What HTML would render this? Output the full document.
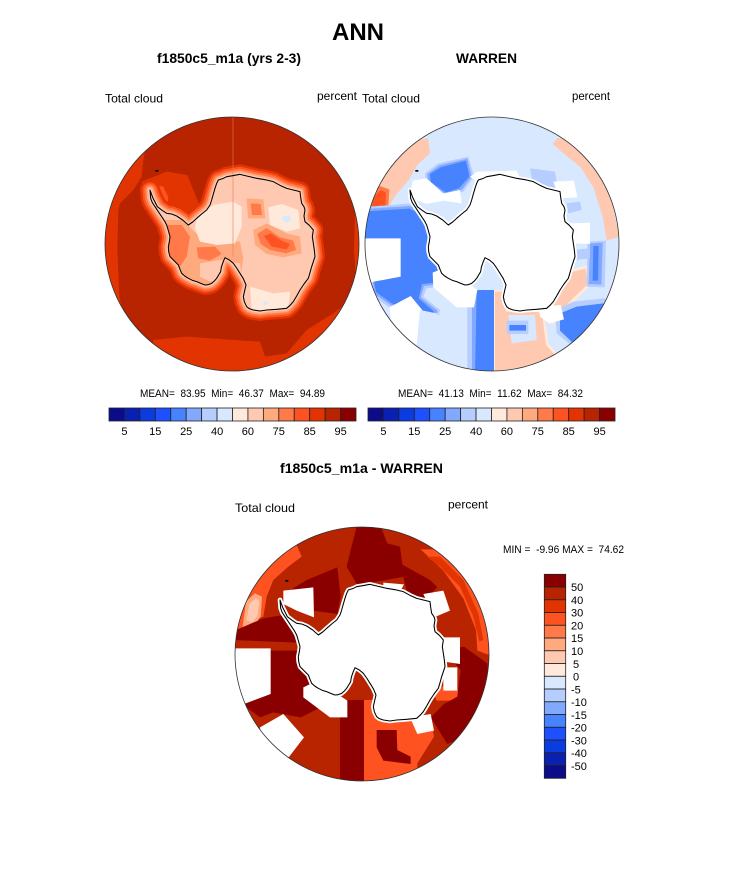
<!DOCTYPE html>
<html><head><meta charset="utf-8"><style>
html,body{margin:0;padding:0;background:#fff;}
svg{display:block;}
text{font-family:"Liberation Sans",Arial,sans-serif;fill:#000;}
</style></head><body>
<svg width="733" height="882" viewBox="0 0 733 882" xmlns="http://www.w3.org/2000/svg">
<defs>
<path id="coast" d="M150,240 L158,262 172,290 188,302 200,310 215,312 230,318 248,330 265,345 278,336 290,325 305,312 320,300 330,285 335,270 340,252 345,235 350,220 355,210 368,206 380,200 398,197 420,193 445,199 470,205 495,209 520,215 540,226 560,235 580,240 600,245 602,262 605,280 612,290 615,300 612,318 615,335 628,346 640,360 637,380 640,400 643,420 645,440 640,455 635,470 630,488 625,505 612,522 600,540 590,558 580,575 570,586 560,595 530,598 500,600 480,603 460,600 448,596 440,590 433,575 430,560 434,542 438,525 430,506 420,490 410,474 400,460 388,450 375,443 371,452 368,460 364,472 362,485 356,495 350,505 343,513 335,520 325,524 315,525 302,520 290,515 277,511 265,505 254,498 245,490 240,478 235,465 222,452 210,440 206,425 205,410 208,395 210,380 205,362 200,345 193,332 185,320 175,305 165,290 157,278 152,265 Z"/>
<clipPath id="cA"><circle cx="396" cy="402" r="381"/></clipPath>
<clipPath id="cB"><circle cx="396" cy="372" r="381"/></clipPath>
<clipPath id="cLand"><use href="#coast"/></clipPath>
</defs>

<!-- Titles -->
<text x="358" y="40" font-size="24" font-weight="bold" text-anchor="middle">ANN</text>
<text x="229" y="63" font-size="14" font-weight="bold" text-anchor="middle" textLength="144" lengthAdjust="spacingAndGlyphs">f1850c5_m1a (yrs 2-3)</text>
<text x="486.5" y="63" font-size="14" font-weight="bold" text-anchor="middle" textLength="61" lengthAdjust="spacingAndGlyphs">WARREN</text>
<text x="105" y="102.5" font-size="12" textLength="58" lengthAdjust="spacingAndGlyphs">Total cloud</text>
<text x="317" y="100" font-size="12" textLength="40" lengthAdjust="spacingAndGlyphs">percent</text>
<text x="362" y="102.5" font-size="12" textLength="58" lengthAdjust="spacingAndGlyphs">Total cloud</text>
<text x="572" y="100" font-size="12" textLength="38" lengthAdjust="spacingAndGlyphs">percent</text>

<!-- LEFT MAP -->
<g transform="translate(100,110) scale(0.333333)">
<g clip-path="url(#cA)">
<rect x="0" y="0" width="800" height="800" fill="#b82300"/>
<polygon fill="#e23400" points="0,100 140,100 130,150 125,200 100,240 60,280 55,300 52,420 58,560 75,640 60,800 0,800"/>
<polygon fill="#e23400" points="150,800 160,690 260,680 480,695 495,740 560,730 620,660 700,610 770,555 800,555 800,800"/>
<polygon fill="#e23400" points="765,290 800,290 800,560 772,560 762,420"/>
<polygon fill="#e23400" points="125,215 200,185 262,195 280,240 300,288 282,312 230,312 175,298 145,272"/>
<polygon fill="#ff5221" points="140,220 190,230 205,262 200,295 165,295 146,262"/>
<use href="#coast" fill="#e23400" stroke="#e23400" stroke-width="60" stroke-linejoin="round"/>
<use href="#coast" fill="none" stroke="#ff5221" stroke-width="46" stroke-linejoin="round"/>
<use href="#coast" fill="none" stroke="#ff7a48" stroke-width="34" stroke-linejoin="round"/>
<use href="#coast" fill="none" stroke="#ffa97f" stroke-width="22" stroke-linejoin="round"/>
<use href="#coast" fill="none" stroke="#ffc9b1" stroke-width="11" stroke-linejoin="round"/>
<use href="#coast" fill="#ffc9b1" stroke="none"/>
<g clip-path="url(#cLand)">
<polygon fill="#ffa97f" points="195,330 250,330 280,362 310,390 420,395 430,445 420,510 300,530 245,500 205,455 195,400"/>
<polygon fill="#ff7a48" points="200,345 245,345 270,380 260,440 240,470 215,450 200,400"/>
<polygon fill="#ffc9b1" points="300,460 360,450 420,460 425,505 330,515 300,500"/>
<polygon fill="#ffe9db" points="290,320 340,285 400,275 425,290 425,350 405,400 350,405 300,395 285,355"/>
<polygon fill="#ffe9db" points="505,292 545,282 595,300 600,355 560,365 510,345"/>
<polygon fill="#ffe9db" points="450,530 520,550 570,545 565,600 455,600"/>
<polygon fill="#ffa97f" points="440,265 490,268 496,325 444,325"/>
<polygon fill="#ff7a48" points="452,280 482,282 486,315 456,315"/>
<polygon fill="#ffa97f" points="460,360 500,340 560,370 600,380 605,430 550,442 500,432 465,405"/>
<polygon fill="#ff7a48" points="472,372 500,354 540,382 580,392 588,420 558,430 510,420 482,402"/>
<polygon fill="#ff5221" points="492,378 512,370 545,392 570,402 560,418 515,410"/>
<polygon fill="#ff7a48" points="290,412 345,410 365,432 330,452 295,445"/>
<ellipse cx="560" cy="326" rx="13" ry="10" fill="#d8e8ff"/>
<ellipse cx="496" cy="580" rx="7" ry="5" fill="#d8e8ff"/>
</g>
<line x1="399" y1="0" x2="399" y2="440" stroke="#e87a5a" stroke-width="3" opacity="0.6"/>
<use href="#coast" fill="none" stroke="#000" stroke-width="3.2" stroke-linejoin="round"/>
<rect x="166" y="180" width="9" height="5" fill="#000"/>
</g>
<circle cx="396" cy="402" r="381" fill="none" stroke="#333" stroke-width="2.4"/>
</g>

<!-- RIGHT MAP -->
<g transform="translate(360,110) scale(0.333333)">
<g clip-path="url(#cA)">
<rect x="0" y="0" width="800" height="800" fill="#d8e8ff"/>
<polygon fill="#ffc9b1" points="0,345 20,300 45,230 85,160 130,105 170,88 205,85 210,130 172,165 145,212 105,258 90,285 40,295 20,345"/>
<polygon fill="#ff7a48" points="22,330 30,260 60,228 88,238 85,290 60,320 40,338"/>
<polygon fill="#ff5221" points="32,320 40,262 62,240 78,248 76,288 55,315"/>
<polygon fill="#ffc9b1" points="578,102 592,84 652,90 702,150 752,262 778,380 740,392 728,320 700,232 662,172 610,130"/>
<polygon fill="#ffe9db" points="400,540 440,540 445,600 540,600 555,620 565,700 600,740 570,800 400,800"/>
<polygon fill="#ffc9b1" points="405,545 432,545 438,605 535,606 548,625 558,705 590,742 560,800 405,800"/>
<polygon fill="#d8e8ff" points="445,615 525,615 530,690 455,700"/>
<polygon fill="#b5cdff" points="440,632 505,632 505,672 440,672"/>
<polygon fill="#4782ff" points="448,645 498,645 498,662 448,662"/>
<polygon fill="#ffe9db" points="596,486 682,466 695,522 652,565 602,614 576,645 548,622 580,580"/>
<polygon fill="#ffc9b1" points="604,494 676,476 686,520 646,558 598,606 578,632 558,618 586,578"/>
<polygon fill="#b5cdff" points="195,190 235,160 325,140 342,200 310,245 262,262 198,225"/>
<polygon fill="#83a9ff" points="202,192 238,166 322,146 335,200 305,240 260,255 204,220"/>
<polygon fill="#4782ff" points="210,192 242,172 318,152 328,200 298,234 258,248 212,216"/>
<polygon fill="#b5cdff" points="0,292 155,280 200,302 222,380 246,458 272,490 240,530 200,535 190,560 240,600 230,650 88,592 40,560 32,510"/>
<polygon fill="#83a9ff" points="0,298 150,288 194,308 214,382 238,460 262,490 232,524 192,528 182,562 232,602 222,644 90,584 44,552 38,512"/>
<polygon fill="#4782ff" points="0,305 148,296 188,316 208,384 232,462 254,490 226,518 186,522 176,565 222,605 212,636 92,578 48,546 42,514 120,500 120,390 0,385"/>
<polygon fill="#ffffff" points="0,385 122,385 122,500 42,515 0,528"/>
<polygon fill="#ffffff" points="88,592 152,558 218,638 172,705 100,690"/>
<polygon fill="#d8e8ff" points="180,600 230,610 280,660 280,720 330,740 330,800 150,800 170,705"/>
<polygon fill="#b5cdff" points="322,540 352,540 352,800 322,800"/>
<polygon fill="#83a9ff" points="336,540 352,540 352,800 336,800"/>
<polygon fill="#4782ff" points="350,540 402,540 402,800 345,800"/>
<polygon fill="#b5cdff" points="682,395 738,392 734,532 680,530"/>
<polygon fill="#83a9ff" points="690,400 728,398 724,524 686,522"/>
<polygon fill="#4782ff" points="700,408 716,408 714,512 698,512"/>
<polygon fill="#b5cdff" points="585,600 640,575 735,565 760,590 715,690 645,715 590,670"/>
<polygon fill="#4782ff" points="600,610 650,590 730,580 745,600 702,680 642,702 600,662"/>
<polygon fill="#b5cdff" points="510,175 585,185 595,245 520,230"/>
<polygon fill="#b5cdff" points="620,280 660,275 665,300 625,310"/>
<polygon fill="#1f50ff" points="530,240 552,244 550,268 532,264"/>
<polygon fill="#b5cdff" points="640,420 690,415 690,445 645,450"/>
<polygon fill="#ffffff" points="158,212 200,205 250,250 300,240 305,280 250,272 200,282 150,262"/>
<polygon fill="#ffffff" points="330,200 352,185 470,182 482,210 352,216"/>
<polygon fill="#ffffff" points="580,215 642,212 652,262 598,265"/>
<polygon fill="#ffffff" points="628,340 690,338 690,402 640,400"/>
<polygon fill="#ffffff" points="218,488 262,470 352,540 342,592 290,592 220,532"/>
<polygon fill="#ffffff" points="538,590 602,585 612,628 568,640 540,620"/>
<polygon fill="#ffc9b1" points="600,490 630,480 635,510 605,512"/>
<polygon fill="#ffc9b1" points="620,420 640,420 640,440 622,440"/>
<use href="#coast" fill="#ffffff" stroke="#ffffff" stroke-width="14" stroke-linejoin="round"/>
<use href="#coast" fill="none" stroke="#000" stroke-width="3.2" stroke-linejoin="round"/>
<rect x="166" y="180" width="9" height="5" fill="#000"/>
</g>
<circle cx="396" cy="402" r="381" fill="none" stroke="#333" stroke-width="2.4"/>
</g>

<!-- MEAN lines -->
<text x="232.5" y="397" font-size="11" text-anchor="middle" textLength="185" lengthAdjust="spacingAndGlyphs" style="white-space:pre">MEAN=  83.95  Min=  46.37  Max=  94.89</text>
<text x="490.5" y="397" font-size="11" text-anchor="middle" textLength="185" lengthAdjust="spacingAndGlyphs" style="white-space:pre">MEAN=  41.13  Min=  11.62  Max=  84.32</text>

<!-- Horizontal colorbars -->
<g id="hbar" stroke="#222" stroke-width="0.8">
<rect x="109" y="408" width="15.44" height="13" fill="#0c0c8a"/>
<rect x="124.44" y="408" width="15.44" height="13" fill="#0a20b0"/>
<rect x="139.88" y="408" width="15.44" height="13" fill="#0a3ce0"/>
<rect x="155.31" y="408" width="15.44" height="13" fill="#1f50ff"/>
<rect x="170.75" y="408" width="15.44" height="13" fill="#4782ff"/>
<rect x="186.19" y="408" width="15.44" height="13" fill="#83a9ff"/>
<rect x="201.63" y="408" width="15.44" height="13" fill="#b5cdff"/>
<rect x="217.06" y="408" width="15.44" height="13" fill="#d8e8ff"/>
<rect x="232.5" y="408" width="15.44" height="13" fill="#ffe9db"/>
<rect x="247.94" y="408" width="15.44" height="13" fill="#ffc9b1"/>
<rect x="263.38" y="408" width="15.44" height="13" fill="#ffa97f"/>
<rect x="278.81" y="408" width="15.44" height="13" fill="#ff7a48"/>
<rect x="294.25" y="408" width="15.44" height="13" fill="#ff5221"/>
<rect x="309.69" y="408" width="15.44" height="13" fill="#e23400"/>
<rect x="325.13" y="408" width="15.44" height="13" fill="#b82300"/>
<rect x="340.56" y="408" width="15.44" height="13" fill="#8a0000"/>
</g>
<use href="#hbar" transform="translate(259,0)"/>
<g font-size="11" text-anchor="middle">
<text x="124.4" y="435">5</text><text x="155.3" y="435">15</text><text x="186.2" y="435">25</text><text x="217.1" y="435">40</text>
<text x="247.9" y="435">60</text><text x="278.8" y="435">75</text><text x="309.7" y="435">85</text><text x="340.6" y="435">95</text>
<text x="383.4" y="435">5</text><text x="414.3" y="435">15</text><text x="445.2" y="435">25</text><text x="476.1" y="435">40</text>
<text x="506.9" y="435">60</text><text x="537.8" y="435">75</text><text x="568.7" y="435">85</text><text x="599.6" y="435">95</text>
</g>

<!-- Bottom titles -->
<text x="361.5" y="473" font-size="14" font-weight="bold" text-anchor="middle" textLength="163" lengthAdjust="spacingAndGlyphs">f1850c5_m1a - WARREN</text>
<text x="235" y="512" font-size="12" textLength="60" lengthAdjust="spacingAndGlyphs">Total cloud</text>
<text x="448" y="508.5" font-size="12" textLength="40" lengthAdjust="spacingAndGlyphs">percent</text>
<text x="503" y="553" font-size="11" textLength="121" lengthAdjust="spacingAndGlyphs" style="white-space:pre">MIN =  -9.96 MAX =  74.62</text>

<!-- BOTTOM MAP -->
<g transform="translate(230,530) scale(0.333333)">
<g clip-path="url(#cB)">
<rect x="0" y="-20" width="800" height="820" fill="#b82300"/>
<polygon fill="#ff5221" points="0,340 20,290 40,220 80,140 140,80 200,45 215,80 175,110 130,150 110,200 100,260 60,275 25,340"/>
<polygon fill="#ffa97f" points="38,290 48,215 75,190 96,200 92,260 70,290"/>
<polygon fill="#ffc9b1" points="50,270 58,222 78,205 88,215 82,258 66,278"/>
<polygon fill="#ff5221" points="572,58 640,58 720,130 772,250 790,380 742,362 738,300 700,205 640,122"/>
<polygon fill="#e23400" points="590,80 630,80 700,150 745,250 760,330 748,335 730,260 690,170 630,110"/>
<polygon fill="#ff5221" points="400,510 440,510 452,568 602,560 612,620 562,700 562,780 400,780"/>
<polygon fill="#ff5221" points="600,462 682,478 692,512 620,512"/>
<polygon fill="#8a0000" points="380,-10 452,-10 472,40 510,50 522,140 460,152 380,162 350,110 362,60"/>
<polygon fill="#8a0000" points="185,178 230,150 322,112 332,200 322,252 250,242"/>
<polygon fill="#8a0000" points="510,100 600,150 622,172 562,232 530,182"/>
<polygon fill="#8a0000" points="0,355 18,300 100,265 160,255 202,290 222,340 242,350 252,420 272,460 242,482 272,532 212,562 130,547 90,562 50,532 40,500 120,490 120,355"/>
<polygon fill="#b82300" points="10,330 200,338 205,362 10,362"/>
<polygon fill="#8a0000" points="330,510 402,510 402,780 330,780"/>
<polygon fill="#8a0000" points="640,360 702,350 772,400 782,500 722,612 652,642 602,562 642,522 682,500 692,420"/>
<polygon fill="#8a0000" points="440,600 500,600 502,660 542,680 542,702 460,692 440,652"/>
<polygon fill="#b82300" points="180,560 230,600 250,660 200,700 170,690"/>
<polygon fill="#ffffff" points="160,182 250,172 252,262 200,242 160,222"/>
<polygon fill="#ffffff" points="0,355 122,355 122,492 42,522 0,530"/>
<polygon fill="#ffffff" points="90,592 160,552 222,622 176,682 100,662"/>
<polygon fill="#ffffff" points="220,472 262,452 352,512 352,562 300,562 220,502"/>
<polygon fill="#ffffff" points="460,158 522,163 512,182 460,182"/>
<polygon fill="#ffffff" points="580,192 640,182 660,242 612,262"/>
<polygon fill="#ffffff" points="610,322 690,322 690,402 622,392"/>
<polygon fill="#ffffff" points="640,412 682,412 682,482 640,482"/>
<polygon fill="#ffffff" points="540,562 602,552 612,602 562,612"/>
<use href="#coast" transform="translate(0,-30)" fill="#ffffff" stroke="#ffffff" stroke-width="14" stroke-linejoin="round"/>
<use href="#coast" transform="translate(0,-30)" fill="none" stroke="#000" stroke-width="3.2" stroke-linejoin="round"/>
<rect x="166" y="150" width="9" height="5" fill="#000"/>
</g>
<circle cx="396" cy="372" r="381" fill="none" stroke="#333" stroke-width="2.4"/>
</g>

<!-- Vertical colorbar -->
<g stroke="#222" stroke-width="0.8">
<rect x="544.3" y="574.3" width="21.4" height="12.75" fill="#8a0000"/>
<rect x="544.3" y="587.05" width="21.4" height="12.75" fill="#b82300"/>
<rect x="544.3" y="599.8" width="21.4" height="12.75" fill="#e23400"/>
<rect x="544.3" y="612.55" width="21.4" height="12.75" fill="#ff5221"/>
<rect x="544.3" y="625.3" width="21.4" height="12.75" fill="#ff7a48"/>
<rect x="544.3" y="638.05" width="21.4" height="12.75" fill="#ffa97f"/>
<rect x="544.3" y="650.8" width="21.4" height="12.75" fill="#ffc9b1"/>
<rect x="544.3" y="663.55" width="21.4" height="12.75" fill="#ffe9db"/>
<rect x="544.3" y="676.3" width="21.4" height="12.75" fill="#d8e8ff"/>
<rect x="544.3" y="689.05" width="21.4" height="12.75" fill="#b5cdff"/>
<rect x="544.3" y="701.8" width="21.4" height="12.75" fill="#83a9ff"/>
<rect x="544.3" y="714.55" width="21.4" height="12.75" fill="#4782ff"/>
<rect x="544.3" y="727.3" width="21.4" height="12.75" fill="#1f50ff"/>
<rect x="544.3" y="740.05" width="21.4" height="12.75" fill="#0a3ce0"/>
<rect x="544.3" y="752.8" width="21.4" height="12.75" fill="#0a20b0"/>
<rect x="544.3" y="765.55" width="21.4" height="12.75" fill="#0c0c8a"/>
</g>
<g font-size="11">
<text x="571" y="591">50</text>
<text x="571" y="604">40</text>
<text x="571" y="616.5">30</text>
<text x="571" y="629.5">20</text>
<text x="571" y="642">15</text>
<text x="571" y="655">10</text>
<text x="573" y="668">5</text>
<text x="573" y="680.5">0</text>
<text x="571" y="693.5">-5</text>
<text x="571" y="706">-10</text>
<text x="571" y="719">-15</text>
<text x="571" y="731.5">-20</text>
<text x="571" y="744.5">-30</text>
<text x="571" y="757">-40</text>
<text x="571" y="770">-50</text>
</g>
</svg>
</body></html>
